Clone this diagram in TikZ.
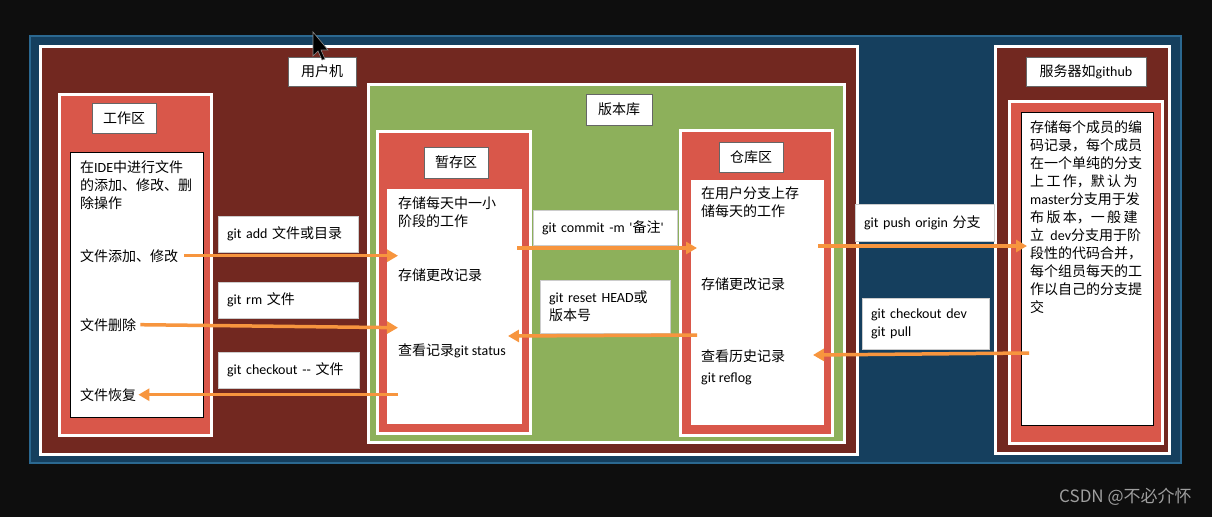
\documentclass[tikz,border=0pt]{standalone}
\usepackage{fontspec}
\setmainfont{Noto Sans CJK SC}
\newfontfamily\lat{Carlito}
\usetikzlibrary{arrows.meta,calc}

\definecolor{page}{HTML}{0E0E0E}
\definecolor{netblue}{HTML}{153F5E}
\definecolor{netedge}{HTML}{2B6890}
\definecolor{hostred}{HTML}{722820}
\definecolor{zonered}{HTML}{D9574A}
\definecolor{repogreen}{HTML}{8DB05B}
\definecolor{flow}{HTML}{F7953E}

\begin{document}
\begin{tikzpicture}[x=1pt,y=-1pt,
  font=\fontsize{14}{18}\selectfont,
  frame/.style={draw=white,line width=3pt,anchor=north west,inner sep=0pt,outer sep=0pt},
  tag/.style={draw=black!60,line width=0.6pt,fill=white,anchor=north west,inner sep=0pt,outer sep=0pt},
  sheet/.style={fill=white,anchor=north west,inner sep=0pt,outer sep=0pt},
  txt/.style={anchor=north west,inner sep=0pt,align=left},
  cmd/.style={draw=black!20,line width=0.5pt,fill=white,anchor=north west,inner xsep=9pt,inner ysep=0pt,outer sep=0pt,align=left},
  arr/.style={draw=flow,line width=3.5pt,-{Triangle[length=11pt,width=12pt]}}]
\fill[page] (0,0) rectangle (1212,517);
\useasboundingbox (0,0) rectangle (1212,517);

% frames
\node[frame,fill=netblue,draw=netedge,line width=1.5pt,minimum width=1151pt,minimum height=427pt] (net) at (30,36) {};
\node[frame,fill=hostred,minimum width=817pt,minimum height=408pt] (host) at (40,46) {};
\node[tag,minimum width=68pt,minimum height=29pt] (hostlbl) at (288,57) {用户机};
\node[frame,fill=hostred,minimum width=174pt,minimum height=407pt] (srv) at (995,46) {};
\node[tag,minimum width=120pt,minimum height=29pt] (srvlbl) at (1026,57) {服务器如{\lat github}};
\node[frame,fill=zonered,minimum width=153pt,minimum height=342pt] (srvmid) at (1009,101) {};
\node[sheet,draw=black,line width=0.8pt,minimum width=132pt,minimum height=313pt] (srvin) at (1021,112) {};

% working area
\node[frame,fill=zonered,minimum width=152pt,minimum height=341pt] (work) at (59,94) {};
\node[tag,minimum width=64pt,minimum height=30pt] (worklbl) at (92,103) {工作区};
\node[sheet,draw=black,line width=0.8pt,minimum width=133pt,minimum height=265pt] (workin) at (70,152) {};

% repository
\node[frame,fill=repogreen,minimum width=476pt,minimum height=358pt] (repo) at (368,84) {};
\node[tag,minimum width=66pt,minimum height=31pt] (repolbl) at (586,94) {版本库};
\node[frame,fill=zonered,minimum width=153pt,minimum height=302pt] (stage) at (377,131) {};
\node[tag,minimum width=64pt,minimum height=31pt] (stagelbl) at (424,147) {暂存区};
\node[sheet,minimum width=135pt,minimum height=235pt] (stagein) at (387,189) {};
\node[frame,fill=zonered,minimum width=152pt,minimum height=305pt] (store) at (680,130) {};
\node[tag,minimum width=64pt,minimum height=30pt] (storelbl) at (719,142) {仓库区};
\node[sheet,minimum width=133pt,minimum height=245pt] (storein) at (691,180) {};

% texts
\node[txt] (workA) at (80,160) {在{\lat IDE}中进行文件\\的添加、修改、删\\除操作};
\node[txt] (addtxt) at (80,249) {文件添加、修改};
\node[txt] (deltxt) at (80,318) {文件删除};
\node[txt] (rsttxt) at (80,388) {文件恢复};
\node[txt] (stgA) at (398,196) {存储每天中一小\\阶段的工作};
\node[txt] (stgB) at (398,269) {存储更改记录};
\node[txt] (stgC) at (398,344) {查看记录{\lat git status}};
\node[txt] (repA) at (701,186) {在用户分支上存\\储每天的工作};
\node[txt] (repB) at (701,278) {存储更改记录};
\node[txt] (repC) at (701,350) {查看历史记录\\[3pt]{\lat git reflog}};
\node[txt] (srvtxt) at (1030,120) {存储每个成员的编\\码记录，每个成员\\在一个单纯的分支\\上\,工\,作，默\,认\,为\\{\lat master}分支用于发\\布\,版\,本，一\,般\,建\\立\ \ {\lat dev}分支用于阶\\段性的代码合并，\\每个组员每天的工\\作以自己的分支提\\交};

% commands
\node[cmd,text width=122pt,minimum height=36pt] (add) at (218,216) {{\lat git add} 文件或目录};
\node[cmd,text width=122pt,minimum height=36pt] (rm) at (218,282) {{\lat git rm} 文件};
\node[cmd,text width=123pt,minimum height=36pt] (chk) at (218,352) {{\lat git checkout -{}-} 文件};
\node[cmd,text width=126pt,minimum height=35pt] (cmt) at (533,210) {{\lat git commit -m \textquotesingle}备注{\lat\textquotesingle}};
\node[cmd,text width=112pt,minimum height=53pt] (rst) at (540,280) {{\lat git reset HEAD}或\\版本号};
\node[cmd,text width=121pt,minimum height=37pt] (psh) at (855,204) {{\lat git push origin} 分支};
\node[cmd,text width=109pt,minimum height=51pt] (pul) at (862,298) {{\lat git checkout dev}\\{\lat git pull}};

% flows
\draw[arr] ([xshift=6pt]addtxt.east) -- (addtxt.east -| stgB.west);
\draw[arr] ([xshift=4pt]deltxt.east) -- ([yshift=-3pt]deltxt.east -| stgB.west);
\draw[arr] (rsttxt.east -| stgB.west) -- ([xshift=2pt]rsttxt.east);
\draw[arr] ($(stagein.east |- cmt.south)+(-5,3)$) -- ($(storein.west |- cmt.south)+(6,3)$);
\draw[arr] ($(storein.west |- rst.south)+(6,2)$) -- ($(stagein.east |- rst.south)+(-14,3)$);
\draw[arr] ($(storein.east |- psh.south)+(-6,5)$) -- ($(srvin.west |- psh.south)+(6,5)$);
\draw[arr] ($(srvin.west |- pul.south)+(8,4)$) -- ($(storein.east |- pul.south)+(-11,6)$);

% pointer
\filldraw[fill=black,draw=black!45,line width=0.6pt] (313,32) -- (313,56) -- (318,51) -- (322,60) -- (325,59) -- (321,50) -- (328,50) -- cycle;

\node[anchor=west,inner sep=0pt,text=black!38,font=\fontsize{17}{20}\selectfont] (mark) at (1059,497) {CSDN @不必介怀};
\end{tikzpicture}
\end{document}
